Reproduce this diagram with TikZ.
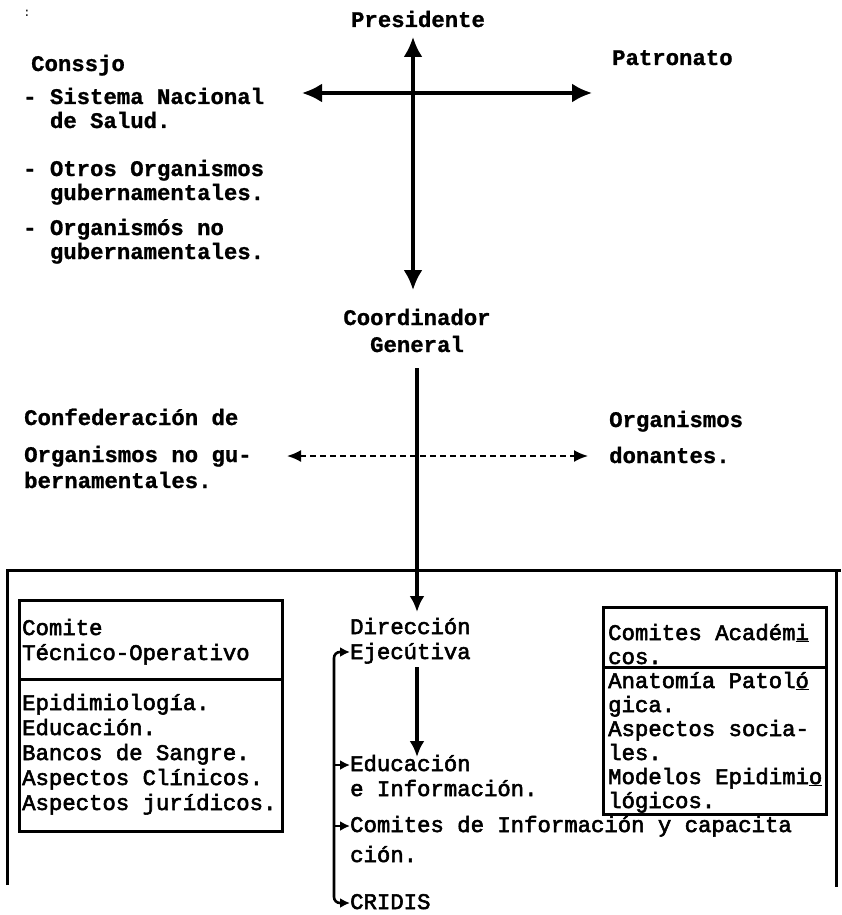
\documentclass[tikz,border=0pt]{standalone}
\usepackage{fontspec}
\setmainfont{Liberation Mono}
\newfontfamily\typemono[FakeBold=2.5]{Liberation Mono}
\newfontfamily\typebold[UprightFont={Liberation Mono Bold},FakeBold=1]{Liberation Mono Bold}
\usetikzlibrary{arrows.meta}
\begin{document}
\begin{tikzpicture}[x=1pt,y=-1pt,
  btxt/.style={anchor=base west,inner sep=0pt,font=\fontsize{22.3}{24}\typebold},
  bctr/.style={anchor=base,inner sep=0pt,font=\fontsize{22.3}{24}\typebold},
  rtxt/.style={anchor=base west,inner sep=0pt,font=\fontsize{22.3}{24}\typemono},
  mainline/.style={line width=3.2pt},
  boxline/.style={line width=3pt},
  bigtip/.style={{Latex[length=20pt,width=19pt]}-{Latex[length=20pt,width=19pt]}},
  downtip/.style={-{Latex[length=16pt,width=15pt]}},
  dashtip/.style={{Latex[length=14pt,width=12pt]}-{Latex[length=14pt,width=12pt]}},
  smalltip/.style={-{Latex[length=10pt,width=10pt]}}]
\useasboundingbox (0,0) rectangle (841,915);
% top
\node[inner sep=0pt,anchor=base,font=\fontsize{12}{12}\selectfont] (colon) at (27,17) {:};
\node[bctr] (pres) at (418,27) {Presidente};
\node[btxt] (cons) at (31,71) {Conssjo};
\node[btxt] (patr) at (612,65) {Patronato};
\node[btxt] (l1a) at (23,104) {- Sistema Nacional};
\node[btxt] (l1b) at (49.8,128) {de Salud.};
\node[btxt] (l2a) at (23,176) {- Otros Organismos};
\node[btxt] (l2b) at (49.8,200) {gubernamentales.};
\node[btxt] (l3a) at (23,235) {- Organismós no};
\node[btxt] (l3b) at (49.8,259) {gubernamentales.};
\coordinate (vt) at (413,37);
\coordinate (vb) at (413,290);
\coordinate (hl) at (302,93);
\coordinate (hr) at (592,93);
\draw[mainline,bigtip] (vt) -- (vb);
\draw[mainline,bigtip] (hl) -- (hr);
% middle
\node[bctr] (coord) at (417,325) {Coordinador};
\node[bctr] (gen) at (417,352) {General};
\node[btxt] (conf1) at (24,425) {Confederación de};
\node[btxt] (conf2) at (24,462) {Organismos no gu-};
\node[btxt] (conf3) at (24,488) {bernamentales.};
\node[btxt] (don1) at (609,427) {Organismos};
\node[btxt] (don2) at (609,463) {donantes.};
\coordinate (dl) at (287,456);
\coordinate (dr) at (588,456);
\draw[line width=2pt,dash pattern=on 6pt off 4pt,dashtip] (dl) -- (dr);
\coordinate (cg) at (417,368);
\coordinate (dtop) at (417,612);
\draw[mainline,downtip] (cg) -- (dtop);
% frame
\coordinate (fl) at (7,885);
\coordinate (fr) at (836,887);
\draw[boxline] (fl) -- (7,570) -- (841,570);
\draw[boxline] (836,570) -- (fr);
% left box
\draw[boxline] (19,600) rectangle (282,831);
\draw[boxline] (19,679) -- (282,679);
\node[rtxt] (lb1) at (22,635) {Comite};
\node[rtxt] (lb2) at (22,660) {Técnico-Operativo};
\node[rtxt] (lb3) at (22,710) {Epidimiología.};
\node[rtxt] (lb4) at (22,735) {Educación.};
\node[rtxt] (lb5) at (22,760) {Bancos de Sangre.};
\node[rtxt] (lb6) at (22,785) {Aspectos Clínicos.};
\node[rtxt] (lb7) at (22,810) {Aspectos jurídicos.};
% right box
\draw[boxline] (603,607) rectangle (826,814);
\draw[boxline] (603,667) -- (826,667);
\node[rtxt] (rb1) at (608,640) {Comites Académ\underline{i}};
\node[rtxt] (rb2) at (608,664) {cos.};
\node[rtxt] (rb3) at (608,688) {Anatomía Patol\underline{ó}};
\node[rtxt] (rb4) at (608,712) {gica.};
\node[rtxt] (rb5) at (608,736) {Aspectos socia-};
\node[rtxt] (rb6) at (608,760) {les.};
\node[rtxt] (rb7) at (608,784) {Modelos Epidimi\underline{o}};
\node[rtxt] (rb8) at (608,808) {lógicos.};
% center column
\node[rtxt] (dir1) at (350,634) {Dirección};
\node[rtxt] (dir2) at (350,659) {Ejecútiva};
\coordinate (e1) at (417,667);
\coordinate (e2) at (417,757);
\draw[mainline,downtip] (e1) -- (e2);
\node[rtxt] (edu1) at (350,771) {Educación};
\node[rtxt] (edu2) at (350,796) {e Información.};
\node[rtxt] (com1) at (350,832) {Comites de Información y capacita};
\node[rtxt] (com2) at (350,862) {ción.};
\node[rtxt] (crid) at (350,909) {CRIDIS};
\draw[line width=2.6pt,{Latex[length=10pt,width=10pt]}-{Latex[length=10pt,width=10pt]},rounded corners=6pt]
  (dir2.west |- 0,652) -| (334,903) -- (crid.west |- 0,903);
\draw[line width=2.6pt,smalltip] (334,765) -- (edu1.west |- 0,765);
\draw[line width=2.6pt,smalltip] (334,826) -- (com1.west |- 0,826);
\end{tikzpicture}
\end{document}
